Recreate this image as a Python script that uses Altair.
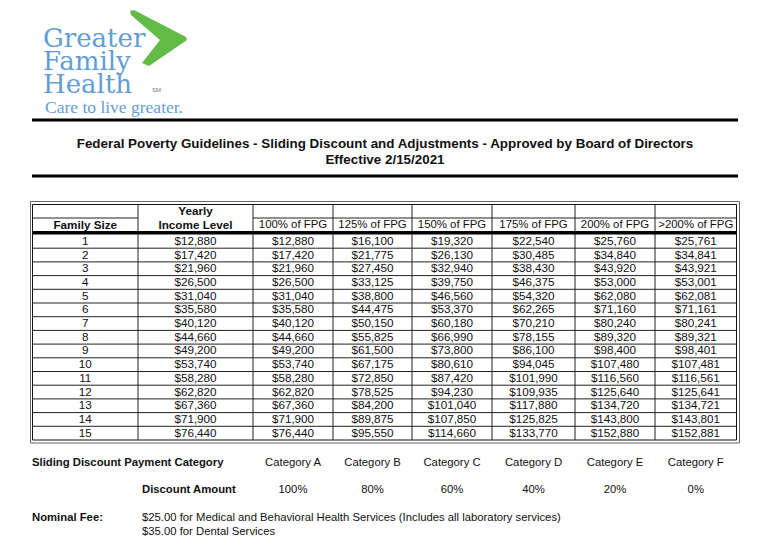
import altair as alt
import pandas as pd

# ---------------- data ----------------
family_sizes = list(range(1, 16))
yearly_income = [12880, 17420, 21960, 26500, 31040, 35580, 40120, 44660, 49200, 53740, 58280, 62820, 67360, 71900, 76440]
fpg_100 = [12880, 17420, 21960, 26500, 31040, 35580, 40120, 44660, 49200, 53740, 58280, 62820, 67360, 71900, 76440]
fpg_125 = [16100, 21775, 27450, 33125, 38800, 44475, 50150, 55825, 61500, 67175, 72850, 78525, 84200, 89875, 95550]
fpg_150 = [19320, 26130, 32940, 39750, 46560, 53370, 60180, 66990, 73800, 80610, 87420, 94230, 101040, 107850, 114660]
fpg_175 = [22540, 30485, 38430, 46375, 54320, 62265, 70210, 78155, 86100, 94045, 101990, 109935, 117880, 125825, 133770]
fpg_200 = [25760, 34840, 43920, 53000, 62080, 71160, 80240, 89320, 98400, 107480, 116560, 125640, 134720, 143800, 152880]
fpg_over200 = [25761, 34841, 43921, 53001, 62081, 71161, 80241, 89321, 98401, 107481, 116561, 125641, 134721, 143801, 152881]

col_headers = ["Family Size", "Income Level", "100% of FPG", "125% of FPG", "150% of FPG",
               "175% of FPG", "200% of FPG", ">200% of FPG"]
header_top = "Yearly"
categories = ["Category A", "Category B", "Category C", "Category D", "Category E", "Category F"]
discounts = ["100%", "80%", "60%", "40%", "20%", "0%"]

title1 = "Federal Poverty Guidelines - Sliding Discount and Adjustments - Approved by Board of Directors"
title2 = "Effective 2/15/2021"
cat_label = "Sliding Discount Payment Category"
disc_label = "Discount Amount"
fee_label = "Nominal Fee:"
fee_lines = ["$25.00 for Medical and Behavioral Health Services (Includes all laboratory services)",
             "$35.00 for Dental Services"]

# ---------------- layout ----------------
W, H = 750, 530
OFF = 8
col_edges_px = [32.5, 138, 253, 333, 412, 492, 575, 655, 736.5]
xs = alt.Scale(domain=list(range(9)), range=[e - OFF for e in col_edges_px], nice=False, zero=False)
ys = alt.Scale(domain=[-2, 0, 15], range=[204.5 - OFF, 234.5 - OFF, 440 - OFF], nice=False, zero=False)

ARIAL = "Liberation Sans, Arial, sans-serif"
FS = 11.3
FS_T = 11.7

columns = [family_sizes, yearly_income, fpg_100, fpg_125, fpg_150, fpg_175, fpg_200, fpg_over200]
cells = []
for j, vals in enumerate(columns):
    for i, v in enumerate(vals):
        t = str(v) if j == 0 else f"${v:,}"
        cells.append({"cx": j + 0.5, "cy": i + 0.5, "t": t})
cells_df = pd.DataFrame(cells)

hdr_df = pd.DataFrame(
    [{"cx": j + 0.5, "cy": -0.66, "t": h, "b": "bold" if j < 2 else "normal"} for j, h in enumerate(col_headers)]
    + [{"cx": 1.5, "cy": -1.57, "t": header_top, "b": "bold"}]
)


def txt(df, **kw):
    return alt.Chart(df).mark_text(**kw).encode(
        x=alt.X("cx:Q", scale=xs, axis=None),
        y=alt.Y("cy:Q", scale=ys, axis=None),
        text="t:N",
    )


cells_layer = txt(cells_df, font=ARIAL, fontSize=FS_T, color="#111", baseline="middle", dy=-0.5)
hdr_bold = txt(hdr_df[hdr_df.b == "bold"], font=ARIAL, fontSize=FS_T, fontWeight="bold", color="#111",
               baseline="middle")
hdr_norm = txt(hdr_df[hdr_df.b == "normal"], font=ARIAL, fontSize=11.4, color="#111", baseline="middle")

# grid lines
thin = []
for k in range(1, 8):
    thin.append({"x": k, "x2": k, "y": -2, "y2": 15})
for r in range(1, 15):
    thin.append({"x": 0, "x2": 8, "y": r, "y2": r})
thin.append({"x": 0, "x2": 1, "y": -1.1, "y2": -1.1})
thin.append({"x": 2, "x2": 8, "y": -1.1, "y2": -1.1})
thin_df = pd.DataFrame(thin)


def rules(df, **kw):
    return alt.Chart(df).mark_rule(**kw).encode(
        x=alt.X("x:Q", scale=xs, axis=None), x2="x2:Q",
        y=alt.Y("y:Q", scale=ys, axis=None), y2="y2:Q",
    )


thin_layer = rules(thin_df, color="#222", strokeWidth=1)
thick_layer = rules(pd.DataFrame([{"x": 0, "x2": 8, "y": -0.12, "y2": -0.12}]), color="#000", strokeWidth=3.5)
inner_box = rules(pd.DataFrame([
    {"x": 0, "x2": 8, "y": -2, "y2": -2}, {"x": 0, "x2": 8, "y": 15, "y2": 15},
    {"x": 0, "x2": 0, "y": -2, "y2": 15}, {"x": 8, "x2": 8, "y": -2, "y2": 15},
]), color="#111", strokeWidth=1)

one = pd.DataFrame({"a": [0]})
outer_box = alt.Chart(one).mark_rect(fill=None, stroke="#666", strokeWidth=1).encode(
    x=alt.value(30.5 - OFF), x2=alt.value(739.5 - OFF), y=alt.value(201.5 - OFF), y2=alt.value(443 - OFF))

# header bars
bars = alt.Chart(pd.DataFrame({"yy": [120 - OFF, 176 - OFF]})).mark_rule(color="#000", strokeWidth=3).encode(
    x=alt.value(32 - OFF), x2=alt.value(738 - OFF), y=alt.Y("yy:Q", scale=None))


def label(text, x, y, **kw):
    return alt.Chart(pd.DataFrame({"t": [text]})).mark_text(**kw).encode(
        x=alt.value(x - OFF), y=alt.value(y - OFF), text="t:N")


title_l1 = label(title1, 385, 144, font=ARIAL, fontSize=13.4, fontWeight="bold", color="#111", baseline="middle")
title_l2 = label(title2, 385, 160, font=ARIAL, fontSize=13.4, fontWeight="bold", color="#111", baseline="middle")

# logo
BLUE = "#629dd6"
logo = [
    label("Greater", 43, 47, font="DejaVu Serif", fontSize=26, color=BLUE, align="left", baseline="alphabetic"),
    label("Family", 43, 70, font="DejaVu Serif", fontSize=26, color=BLUE, align="left", baseline="alphabetic"),
    label("Health", 43, 93, font="DejaVu Serif", fontSize=26, color=BLUE, align="left", baseline="alphabetic"),
    label("SM", 152, 92, font=ARIAL, fontSize=6, color="#777", align="left", baseline="alphabetic"),
    label("Care to live greater.", 45, 113, font="Liberation Serif", fontSize=17.5, color=BLUE, align="left",
          baseline="alphabetic"),
]
chev_path = ("M -0.933 -0.9 L -0.8 -0.933 L 0.933 -0.033 L 0.967 0.067 L -0.3 0.933 "
             "L -0.533 0.833 L 0.067 0.067 L -0.9 -0.767 Z")
chevron = alt.Chart(one).mark_point(shape=chev_path, filled=True, fill="#62bb46", strokeWidth=0,
                                    opacity=1, size=3600).encode(x=alt.value(158 - OFF), y=alt.value(38 - OFF))

# bottom section
cat_df = pd.DataFrame({"cx": [j + 2.5 for j in range(6)], "t": categories})
disc_df = pd.DataFrame({"cx": [j + 2.5 for j in range(6)], "t": discounts})
cat_layer = alt.Chart(cat_df).mark_text(font=ARIAL, fontSize=FS, color="#111", baseline="middle").encode(
    x=alt.X("cx:Q", scale=xs, axis=None), y=alt.value(463 - OFF), text="t:N")
disc_layer = alt.Chart(disc_df).mark_text(font=ARIAL, fontSize=FS, color="#111", baseline="middle").encode(
    x=alt.X("cx:Q", scale=xs, axis=None), y=alt.value(490 - OFF), text="t:N")
bottom = [
    label(cat_label, 32, 463, font=ARIAL, fontSize=FS, fontWeight="bold", color="#111", align="left",
          baseline="middle"),
    label(disc_label, 142, 490, font=ARIAL, fontSize=FS, fontWeight="bold", color="#111", align="left",
          baseline="middle"),
    label(fee_label, 32, 518, font=ARIAL, fontSize=FS, fontWeight="bold", color="#111", align="left",
          baseline="middle"),
    label(fee_lines[0], 142, 518, font=ARIAL, fontSize=FS, color="#111", align="left", baseline="middle"),
    label(fee_lines[1], 142, 532, font=ARIAL, fontSize=FS, color="#111", align="left", baseline="middle"),
]

chart = alt.layer(
    outer_box, inner_box, thin_layer, thick_layer, bars, chevron,
    *logo, title_l1, title_l2,
    cells_layer, hdr_bold, hdr_norm, cat_layer, disc_layer, *bottom,
).properties(
    width=W, height=H, padding=0, autosize=alt.AutoSizeParams(type="none"), background="white"
).configure_view(stroke=None)

chart.save("out.html", embed_options={"renderer": "svg", "actions": False})
